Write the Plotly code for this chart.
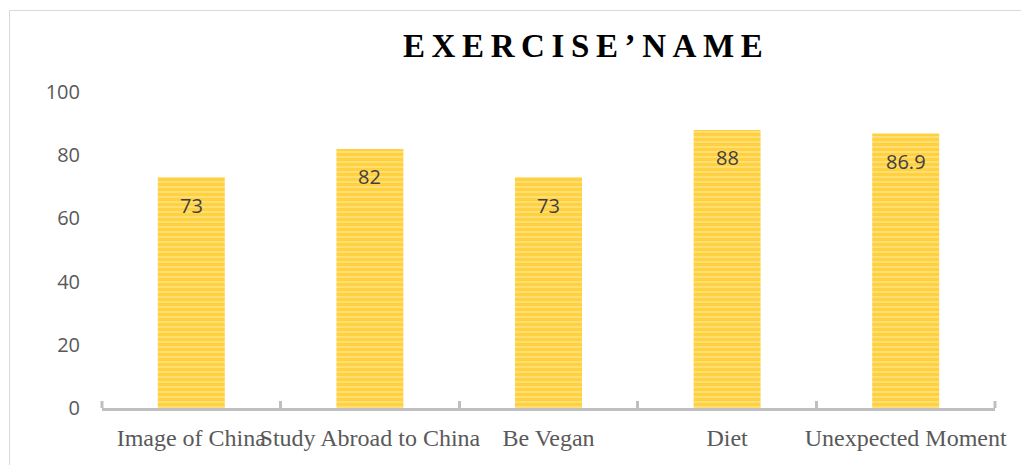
import plotly.graph_objects as go

categories = ["Image of China", "Study Abroad to China", "Be Vegan", "Diet", "Unexpected Moment"]
scores = [73, 82, 73, 88, 86.9]
score_labels = ["73", "82", "73", "88", "86.9"]
y_ticks = [0, 20, 40, 60, 80, 100]
title_text = "EXERCISE\u2019NAME"

W, H = 1021, 465
L, R, T, B = 102, 26, 92, 57
pw, ph = W - L - R, H - T - B

fig = go.Figure()
fig.add_trace(go.Bar(
    x=categories, y=scores,
    marker=dict(
        color="#FFC000",
        line=dict(width=0),
        pattern=dict(shape="-", fgcolor="#FFC000", bgcolor="#FFE17F", size=5, solidity=0.68),
    ),
    hoverinfo="skip",
))

for c, v, t in zip(categories, scores, score_labels):
    fig.add_annotation(x=c, y=v, text=t, showarrow=False, yanchor="middle", yshift=-28,
                       font=dict(family="Open Sans", size=20, color="#404040"))

spaced = "\u2009".join(title_text)
fig.add_annotation(xref="paper", yref="paper", x=(583 - L) / pw, y=(H - B - 46) / ph,
                   text="<b>" + spaced + "</b>", showarrow=False, xanchor="center", yanchor="middle",
                   font=dict(family="Liberation Serif", size=33, color="#000000"))

# outer frame
fig.add_shape(type="rect", xref="paper", yref="paper",
              x0=(9.5 - L) / pw, x1=1.2, y0=-0.5, y1=(H - B - 10.5) / ph,
              line=dict(color="#D9D9D9", width=1), fillcolor="rgba(0,0,0,0)", layer="below")

# end caps of the category axis
for xe in (0, 1):
    fig.add_shape(type="line", xref="paper", yref="paper", x0=xe, x1=xe, y0=0, y1=7 / ph,
                  line=dict(color="#BFBFBF", width=3))

fig.update_layout(
    width=W, height=H,
    margin=dict(l=L, r=R, t=T, b=B, autoexpand=False),
    paper_bgcolor="white", plot_bgcolor="white",
    showlegend=False,
    bargap=0.625,
    xaxis=dict(
        type="category", showgrid=False, zeroline=False,
        showline=True, linecolor="#BFBFBF", linewidth=3,
        ticks="inside", tickson="boundaries", ticklen=7, tickwidth=3, tickcolor="#BFBFBF",
        tickangle=0, ticklabelstandoff=6,
        tickfont=dict(family="Liberation Serif", size=24, color="#595959"),
        fixedrange=True,
    ),
    yaxis=dict(
        range=[0, 100], tickvals=y_ticks, showgrid=False, zeroline=False, showline=False,
        ticks="", ticklabelstandoff=21,
        tickfont=dict(family="Open Sans", size=20, color="#595959"),
        fixedrange=True,
    ),
)

fig.write_html("out.html")
